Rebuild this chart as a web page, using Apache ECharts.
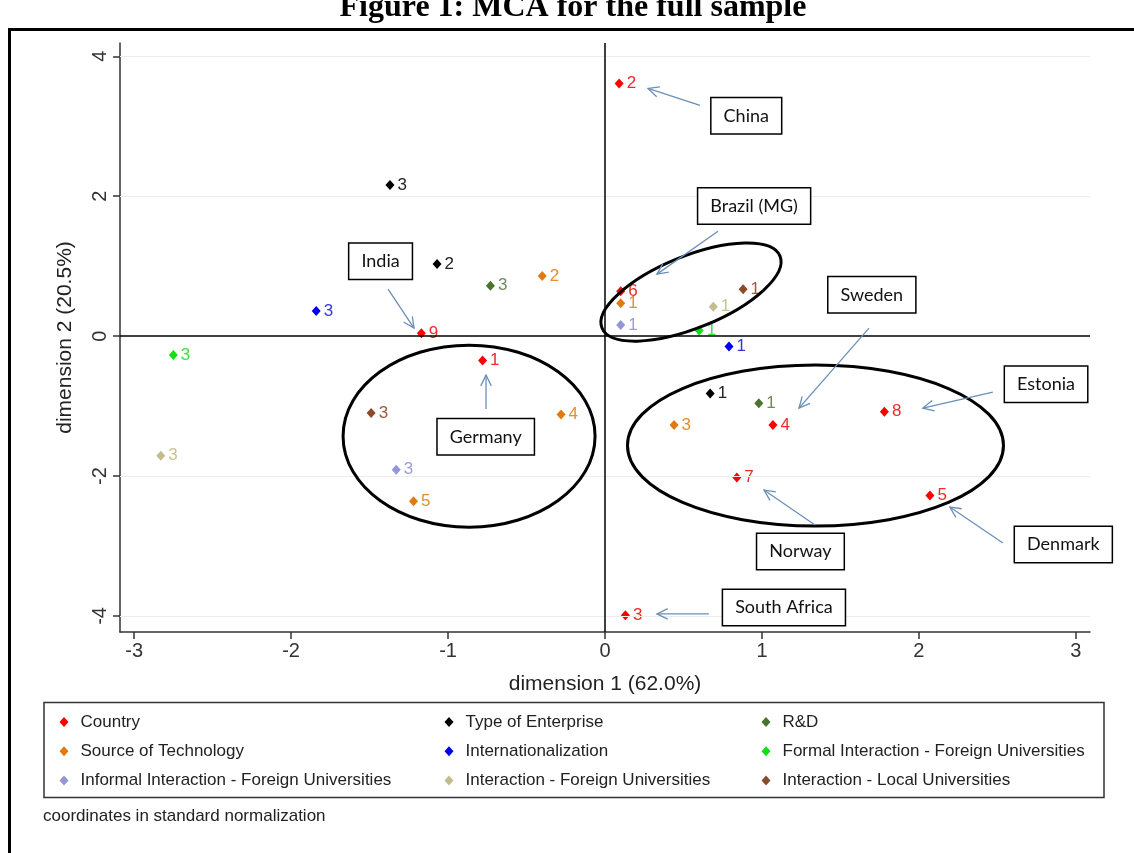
<!DOCTYPE html>
<html>
<head>
<meta charset="utf-8">
<script src="https://cdn.jsdelivr.net/npm/echarts@6/dist/echarts.min.js"></script>
<style>
  html, body { margin: 0; padding: 0; background: #fff; }
  #chart { width: 1134px; height: 853px; }
</style>
</head>
<body>
<div id="chart"></div>
<script>
// tick labels
const xTicks = [-3, -2, -1, 0, 1, 2, 3];
const yTicks = [-4, -2, 0, 2, 4];
const gridY = [-4, -2, 2, 4];

// category coordinates [dim1, dim2, label]
const country = [[0.09, 3.61, '2'], [0.10, 0.64, '6'], [-1.17, 0.04, '9'], [-0.78, -0.35, '1'],
  [1.07, -1.27, '4'], [1.78, -1.08, '8'], [0.84, -2.02, '7'], [2.07, -2.28, '5'], [0.13, -3.99, '3']];
const enterprise = [[-1.37, 2.16, '3'], [-1.07, 1.03, '2'], [0.67, -0.82, '1']];
const rd = [[-0.73, 0.72, '3'], [0.98, -0.96, '1']];
const technology = [[-0.40, 0.86, '2'], [0.10, 0.47, '1'], [-0.28, -1.12, '4'], [0.44, -1.27, '3'], [-1.22, -2.36, '5']];
const intl = [[-1.84, 0.36, '3'], [0.79, -0.15, '1']];
const formalForeign = [[-2.75, -0.27, '3'], [0.60, 0.08, '1']];
const informalForeign = [[0.10, 0.16, '1'], [-1.33, -1.91, '3']];
const foreignUniv = [[0.69, 0.42, '1'], [-2.83, -1.71, '3']];
const localUniv = [[0.88, 0.67, '1'], [-1.49, -1.10, '3']];

const groups = [
  { name: 'Country', data: country, color: '#ff0000', label: '#ee2a2a' },
  { name: 'Type of Enterprise', data: enterprise, color: '#000000', label: '#222222' },
  { name: 'R&D', data: rd, color: '#4a7330', label: '#6e8a5a' },
  { name: 'Source of Technology', data: technology, color: '#e07a10', label: '#e0902e' },
  { name: 'Internationalization', data: intl, color: '#0000ee', label: '#3535e0' },
  { name: 'Formal Interaction - Foreign Universities', data: formalForeign, color: '#11e011', label: '#3ce23c' },
  { name: 'Informal Interaction - Foreign Universities', data: informalForeign, color: '#9494d8', label: '#9c9cdc' },
  { name: 'Interaction - Foreign Universities', data: foreignUniv, color: '#c2bd8c', label: '#ccc28e' },
  { name: 'Interaction - Local Universities', data: localUniv, color: '#8b4a2a', label: '#9a5a3c' }
];

// annotations, in data coordinates
const boxes = [
  { text: 'China', at: [0.90, 3.15] },
  { text: 'Brazil (MG)', at: [0.95, 1.86] },
  { text: 'India', at: [-1.43, 1.07] },
  { text: 'Germany', at: [-0.76, -1.44] },
  { text: 'Sweden', at: [1.70, 0.59] },
  { text: 'Estonia', at: [2.81, -0.69] },
  { text: 'Norway', at: [1.245, -3.08] },
  { text: 'Denmark', at: [2.92, -2.98] },
  { text: 'South Africa', at: [1.14, -3.88] }
];
const arrows = [
  [[0.605, 3.30], [0.274, 3.54]],
  [[0.72, 1.50], [0.331, 0.886]],
  [[-1.382, 0.671], [-1.217, 0.114]],
  [[-0.758, -1.043], [-0.758, -0.557]],
  [[1.682, 0.114], [1.236, -1.029]],
  [[2.471, -0.80], [2.025, -1.029]],
  [[1.338, -2.70], [1.013, -2.20]],
  [[2.535, -2.957], [2.197, -2.443]],
  [[0.662, -3.971], [0.331, -3.971]]
];
const ellipses = [
  { at: [0.548, 0.629], rx: 96, ry: 36, angle: 22 },
  { at: [-0.866, -1.43], rx: 126, ry: 91, angle: 0 },
  { at: [1.341, -1.564], rx: 188, ry: 80.5, angle: 0 }
];

const chart = echarts.init(document.getElementById('chart'));
const axisColor = '#333';
const font = 'Liberation Sans';

let series = groups.map(g => ({
  type: 'scatter',
  name: g.name,
  data: g.data,
  symbol: 'diamond',
  symbolSize: [9, 10],
  z: 4,
  itemStyle: { color: g.color, opacity: 1 },
  label: {
    show: true, position: 'right', distance: 3,
    formatter: p => p.data[2],
    color: g.label, fontSize: 17, fontFamily: font
  },
  emphasis: { disabled: true }
}));

// grid and zero lines
series.push({
  type: 'scatter', name: 'lines', data: [], z: 1, silent: true,
  markLine: {
    silent: true, symbol: ['none', 'none'], animation: false,
    label: { show: false },
    data: gridY.map(v => ({ yAxis: v, lineStyle: { color: '#ececec', width: 1, type: 'solid' } }))
      .concat([
        { yAxis: 0, lineStyle: { color: '#000', width: 1.5, type: 'solid' } },
        { xAxis: 0, lineStyle: { color: '#000', width: 1.5, type: 'solid' } }
      ])
  }
});

function legendCol(names, left) {
  return {
    data: names, orient: 'vertical', left: left, top: 707,
    icon: 'diamond', itemWidth: 9, itemHeight: 10, itemGap: 9.3,
    selectedMode: false,
    textStyle: { fontSize: 17, fontFamily: font, color: '#222', lineHeight: 20, padding: [0, 0, 0, 7] }
  };
}

chart.setOption({
  animation: false,
  backgroundColor: '#fff',
  grid: { left: 120, right: 44, top: 43, bottom: 221 },
  xAxis: {
    type: 'value', min: -3.09, max: 3.09,
    name: 'dimension 1 (62.0%)', nameLocation: 'middle', nameGap: 42,
    nameTextStyle: { fontSize: 21, fontFamily: font, color: '#222' },
    axisLine: { show: true, onZero: false, lineStyle: { color: axisColor, width: 1.5 } },
    axisTick: { show: true, length: 7, customValues: xTicks, lineStyle: { color: axisColor, width: 1.5 } },
    axisLabel: { customValues: xTicks, fontSize: 20, fontFamily: font, color: '#333', margin: 9 },
    splitLine: { show: false }
  },
  yAxis: {
    type: 'value', min: -4.23, max: 4.19,
    name: 'dimension 2 (20.5%)', nameLocation: 'middle', nameGap: 44,
    nameTextStyle: { fontSize: 21, fontFamily: font, color: '#222' },
    axisLine: { show: true, onZero: false, lineStyle: { color: axisColor, width: 1.5 } },
    axisTick: { show: true, length: 7, customValues: yTicks, lineStyle: { color: axisColor, width: 1.5 } },
    axisLabel: { customValues: yTicks, rotate: 90, fontSize: 20, fontFamily: font, color: '#333', margin: 10 },
    splitLine: { show: false }
  },
  legend: [
    legendCol(['Country', 'Source of Technology', 'Informal Interaction - Foreign Universities'], 54.5),
    legendCol(['Type of Enterprise', 'Internationalization', 'Interaction - Foreign Universities'], 439.5),
    legendCol(['R&D', 'Formal Interaction - Foreign Universities', 'Interaction - Local Universities'], 756.5)
  ],
  series: series
});

// annotation graphics placed through the grid's coordinate system
const px = p => chart.convertToPixel({ gridIndex: 0 }, p);
const graphics = [];

graphics.push({
  type: 'rect', silent: true, z: 0,
  shape: { x: 9.5, y: 29.5, width: 1300, height: 1000 },
  style: { fill: 'none', stroke: '#000', lineWidth: 3 }
});
graphics.push({
  type: 'text', silent: true, x: 573, y: 24,
  style: { text: 'Figure 1: MCA for the full sample', font: 'bold 32px "Liberation Serif"', fill: '#000', align: 'center', verticalAlign: 'bottom' }
});
graphics.push({
  type: 'rect', silent: true,
  shape: { x: 44, y: 702.5, width: 1060, height: 95 },
  style: { fill: 'none', stroke: '#333', lineWidth: 1.5 }
});
graphics.push({
  type: 'text', silent: true, x: 43, y: 816,
  style: { text: 'coordinates in standard normalization', font: '17px "Liberation Sans"', fill: '#222', align: 'left', verticalAlign: 'middle' }
});

ellipses.forEach(e => {
  const c = px(e.at);
  graphics.push({
    type: 'ellipse', silent: true, z: 10,
    x: c[0], y: c[1], rotation: e.angle * Math.PI / 180,
    shape: { cx: 0, cy: 0, rx: e.rx, ry: e.ry },
    style: { fill: 'none', stroke: '#000', lineWidth: 3 }
  });
});

arrows.forEach(a => {
  const s = px(a[0]), t = px(a[1]);
  const ang = Math.atan2(t[1] - s[1], t[0] - s[0]);
  const len = 12, spread = 0.45;
  const h1 = [t[0] - len * Math.cos(ang - spread), t[1] - len * Math.sin(ang - spread)];
  const h2 = [t[0] - len * Math.cos(ang + spread), t[1] - len * Math.sin(ang + spread)];
  graphics.push({
    type: 'polyline', silent: true, z: 11,
    shape: { points: [s, t] },
    style: { stroke: '#6b8fb8', lineWidth: 1.3, fill: 'none' }
  });
  graphics.push({
    type: 'polyline', silent: true, z: 11,
    shape: { points: [h1, t, h2] },
    style: { stroke: '#6b8fb8', lineWidth: 1.3, fill: 'none' }
  });
});

boxes.forEach(b => {
  const c = px(b.at);
  graphics.push({
    type: 'text', silent: true, z: 12, x: c[0], y: c[1],
    style: {
      text: b.text, font: '18px Lato', fill: '#111',
      align: 'center', verticalAlign: 'middle',
      backgroundColor: '#fff', borderColor: '#000', borderWidth: 1.5,
      padding: [9, 12, 8, 12]
    }
  });
});

chart.setOption({ graphic: graphics });
</script>
</body>
</html>
